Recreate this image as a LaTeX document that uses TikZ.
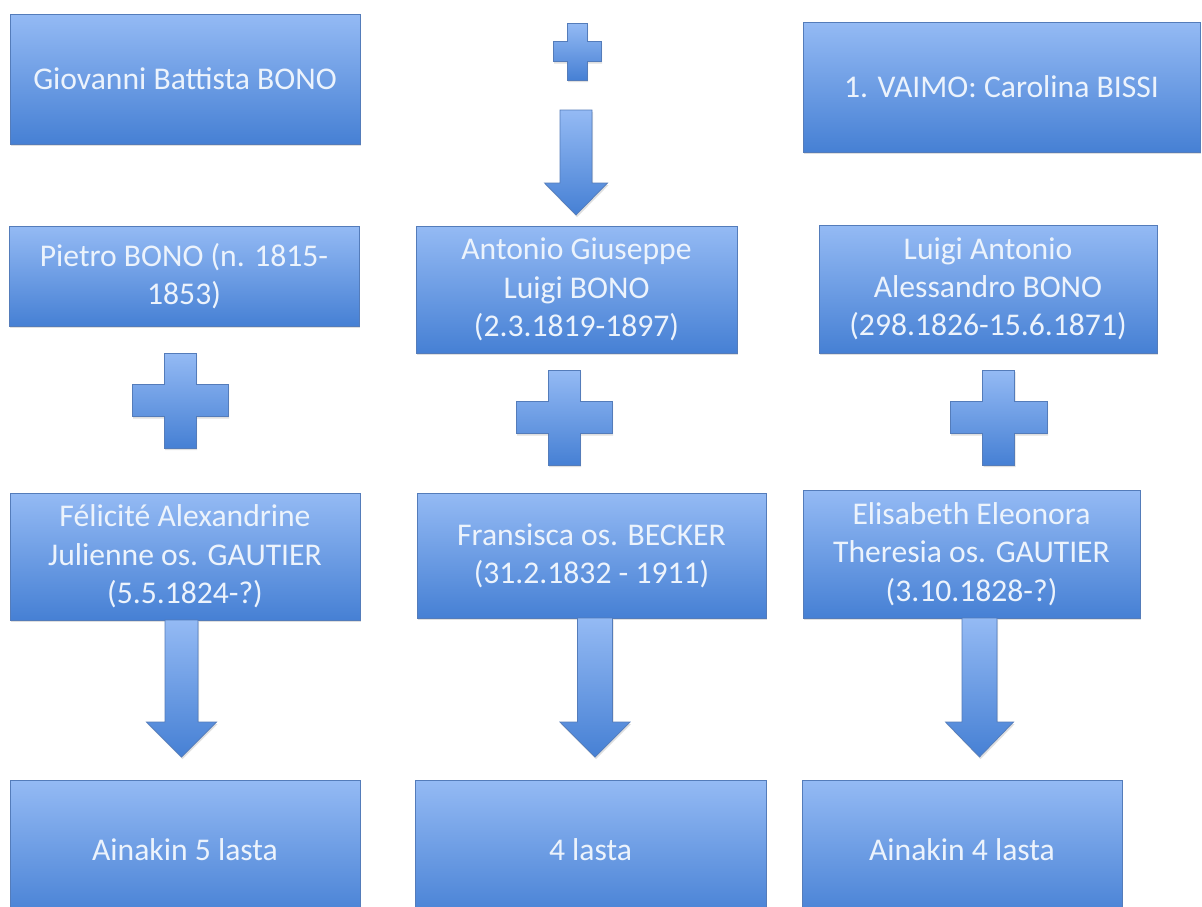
\documentclass[tikz,border=0pt]{standalone}
\usepackage{fontspec}
\setmainfont{Carlito}
\usetikzlibrary{shadows}

\definecolor{boxtop}{RGB}{148,186,244}
\definecolor{boxbot}{RGB}{70,128,212}
\definecolor{boxline}{RGB}{84,124,186}
\definecolor{boxtext}{RGB}{236,243,252}

\newcommand{\famfont}{\fontsize{18}{21.8}\selectfont}
% block plus: centre x, centre y, half width, half height, half arm
\newcommand{\famplus}[5]{%
  \path[blockfill] (#1-#5,#2-#4) -- (#1+#5,#2-#4) -- (#1+#5,#2-#5) -- (#1+#3,#2-#5)
    -- (#1+#3,#2+#5) -- (#1+#5,#2+#5) -- (#1+#5,#2+#4) -- (#1-#5,#2+#4)
    -- (#1-#5,#2+#5) -- (#1-#3,#2+#5) -- (#1-#3,#2-#5) -- (#1-#5,#2-#5) -- cycle;}
% block arrow: centre x, top y, head base y, tip y, half shaft, half head
\newcommand{\famarrow}[6]{%
  \path[blockfill] (#1-#5,#2) -- (#1+#5,#2) -- (#1+#5,#3) -- (#1+#6,#3)
    -- (#1,#4) -- (#1-#6,#3) -- (#1-#5,#3) -- cycle;}

\tikzset{
  blockfill/.style={draw=boxline, line width=0.4pt, top color=boxtop, bottom color=boxbot,
    drop shadow={opacity=0.25, shadow xshift=0.6pt, shadow yshift=-1.2pt}},
  person/.style={blockfill, rectangle, align=center, inner sep=0pt, outer sep=0pt,
    text=boxtext, font=\famfont}
}

\begin{document}
\begin{tikzpicture}[x=0.02cm, y=-0.02cm]
	\useasboundingbox (0,0) rectangle (1202,906);
	\fill[white] (0,0) rectangle (1202,906);
	\clip (0,0) rectangle (1202,906);
	% Row 1
	\node[person, minimum width=7cm, minimum height=2.6cm] (gio) at (185,79) {Giovanni Battista BONO};
	\node[person, minimum width=7.94cm, minimum height=2.6cm] (vaimo) at (1001.5,87) {1. VAIMO: Carolina BISSI};
	\famplus{577}{51.5}{24}{28.5}{10}
	\famarrow{576}{110}{183}{215}{16}{31.5}
	% Row 2 (sons)
	\node[person, minimum width=7cm, minimum height=2cm] (pietro) at (184,276)
		{Pietro BONO (n. 1815-\\1853)};
	\node[person, minimum width=6.42cm, minimum height=2.54cm] (antonio) at (576.5,289.5)
		{Antonio Giuseppe\\Luigi BONO\\(2.3.1819-1897)};
	\node[person, minimum width=6.76cm, minimum height=2.56cm] (luigi) at (988,289)
		{Luigi Antonio\\Alessandro BONO\\(298.1826-15.6.1871)};
	\famplus{180}{400.5}{48}{47.5}{16}
	\famplus{564}{417.5}{48}{47.5}{16}
	\famplus{998.5}{417.5}{48.5}{47.5}{16}
	% Row 3 (wives)
	\node[person, minimum width=7cm, minimum height=2.54cm] (felicite) at (185,556.5)
		{Félicité Alexandrine\\Julienne os. GAUTIER\\(5.5.1824-?)};
	\node[person, minimum width=6.98cm, minimum height=2.5cm] (fransisca) at (591.5,555.5)
		{Fransisca os. BECKER\\(31.2.1832 - 1911)};
	\node[person, minimum width=6.74cm, minimum height=2.56cm] (elisabeth) at (971.5,554)
		{Elisabeth Eleonora\\Theresia os. GAUTIER\\(3.10.1828-?)};
	\famarrow{181.5}{620}{722}{757}{16.5}{35}
	\famarrow{595}{618}{722}{757}{17.5}{35}
	\famarrow{979.5}{618}{722}{757}{17.5}{34}
	% Row 4 (children)
	\node[person, minimum width=7cm, minimum height=2.8cm] (lapset1) at (185,850) {Ainakin 5 lasta};
	\node[person, minimum width=7.02cm, minimum height=2.8cm] (lapset2) at (590.5,850) {4 lasta};
	\node[person, minimum width=6.4cm, minimum height=2.8cm] (lapset3) at (962,850) {Ainakin 4 lasta};
\end{tikzpicture}
\end{document}
